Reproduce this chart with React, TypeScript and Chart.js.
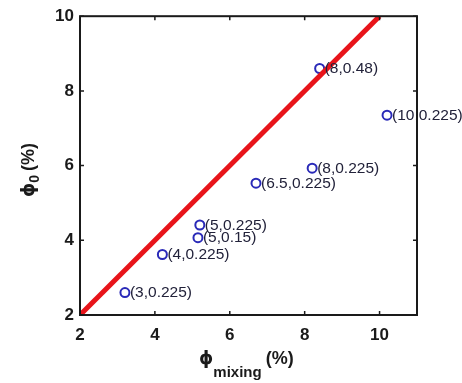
import React, { useEffect, useRef } from 'react';
import { Chart, registerables } from 'chart.js';
Chart.register(...registerables);

const xTicks = [2, 4, 6, 8, 10];
const yTicks = [2, 4, 6, 8, 10];
const pointX = [8.4, 10.2, 8.2, 6.7, 5.2, 5.15, 4.2, 3.2];
const pointY = [8.6, 7.35, 5.93, 5.53, 4.41, 4.07, 3.62, 2.6];
const pointLabels = ['(8,0.48)', '(10,0.225)', '(8,0.225)', '(6.5,0.225)', '(5,0.225)', '(5,0.15)', '(4,0.225)', '(3,0.225)'];
const lineX = [2, 10];
const lineY = [2, 10];

const FONT = '"Liberation Sans", Arial, sans-serif';

const framePlugin = {
  id: 'frame',
  afterDatasetsDraw(chart: any) {
    const { ctx } = chart;
    ctx.save();
    const meta = chart.getDatasetMeta(1);
    ctx.font = `15.5px ${FONT}`;
    ctx.fillStyle = '#22223a';
    ctx.textBaseline = 'middle';
    ctx.textAlign = 'left';
    meta.data.forEach((el: any, i: number) => {
      ctx.fillText(pointLabels[i], el.x + 5, el.y + 0.5);
    });
    ctx.restore();
  },
  afterDraw(chart: any) {
    const { ctx, chartArea: a, scales } = chart;
    ctx.save();
    ctx.strokeStyle = '#1a1a1a';
    ctx.lineWidth = 2;
    ctx.strokeRect(a.left, a.top, a.right - a.left, a.bottom - a.top);
    ctx.lineWidth = 1.5;
    const tl = 4;
    ctx.beginPath();
    xTicks.forEach((v) => {
      const px = scales.x.getPixelForValue(v);
      ctx.moveTo(px, a.bottom);
      ctx.lineTo(px, a.bottom - tl);
      ctx.moveTo(px, a.top);
      ctx.lineTo(px, a.top + tl);
    });
    yTicks.forEach((v) => {
      const py = scales.y.getPixelForValue(v);
      ctx.moveTo(a.left, py);
      ctx.lineTo(a.left + tl, py);
      ctx.moveTo(a.right, py);
      ctx.lineTo(a.right - tl, py);
    });
    ctx.stroke();

    // x title
    ctx.fillStyle = '#1a1a1a';
    ctx.textBaseline = 'alphabetic';
    ctx.textAlign = 'left';
    let x = 199;
    ctx.font = `bold 18px "DejaVu Sans", ${FONT}`;
    ctx.fillText('\u03D5', x, 364);
    x += ctx.measureText('\u03D5').width;
    ctx.font = `bold 15px ${FONT}`;
    ctx.fillText('mixing', x, 377);
    x += ctx.measureText('mixing').width + 4;
    ctx.font = `bold 18px ${FONT}`;
    ctx.fillText('(%)', x, 364);

    // y title
    ctx.save();
    ctx.translate(34, 197);
    ctx.rotate(-Math.PI / 2);
    let yx = 0;
    ctx.font = `bold 18px "DejaVu Sans", ${FONT}`;
    ctx.fillText('\u03D5', yx, 0);
    yx += ctx.measureText('\u03D5').width;
    ctx.font = `bold 14px ${FONT}`;
    ctx.fillText('0', yx, 5);
    yx += ctx.measureText('0').width + 4;
    ctx.font = `bold 18px ${FONT}`;
    ctx.fillText('(%)', yx, 0);
    ctx.restore();

    ctx.restore();
  },
};

export default function App() {
  const ref = useRef<HTMLCanvasElement>(null);
  useEffect(() => {
    const canvas = ref.current!;
    const chart = new Chart(canvas, {
      type: 'scatter',
      data: {
        datasets: [
          {
            type: 'line',
            data: lineX.map((v, i) => ({ x: v, y: lineY[i] })),
            borderColor: '#e8141a',
            borderWidth: 5,
            pointRadius: 0,
            fill: false,
            order: 0,
          } as any,
          {
            type: 'scatter',
            data: pointX.map((v, i) => ({ x: v, y: pointY[i] })),
            borderColor: '#2a2ab8',
            backgroundColor: 'rgba(0,0,0,0)',
            borderWidth: 2,
            pointRadius: 4.5,
            pointStyle: 'circle',
            order: 1,
          },
        ],
      },
      options: {
        animation: false,
        responsive: false,
        events: [],
        layout: { padding: { top: 14, right: 45, left: 0, bottom: 0 } },
        plugins: { legend: { display: false }, tooltip: { enabled: false } },
        scales: {
          x: {
            type: 'linear',
            min: 2,
            max: 11,
            grid: { display: false, drawTicks: false },
            border: { display: false },
            ticks: { font: { family: FONT, size: 17, weight: 'bold' }, color: '#1a1a1a', padding: 10, maxRotation: 0 },
            afterBuildTicks: (s: any) => { s.ticks = xTicks.map((v) => ({ value: v })); },
            afterFit: (s: any) => { s.height = 68; },
          },
          y: {
            type: 'linear',
            min: 2,
            max: 10,
            grid: { display: false, drawTicks: false },
            border: { display: false },
            ticks: { font: { family: FONT, size: 17, weight: 'bold' }, color: '#1a1a1a', padding: 6 },
            afterBuildTicks: (s: any) => { s.ticks = yTicks.map((v) => ({ value: v })); },
            afterFit: (s: any) => { s.width = 80; },
          },
        },
      },
      plugins: [framePlugin],
    });
    return () => chart.destroy();
  }, []);
  return (
    <div style={{ position: 'absolute', left: 0, top: 0, width: 462, height: 383, background: '#fff' }}>
      <canvas ref={ref} width={462} height={383} />
    </div>
  );
}
